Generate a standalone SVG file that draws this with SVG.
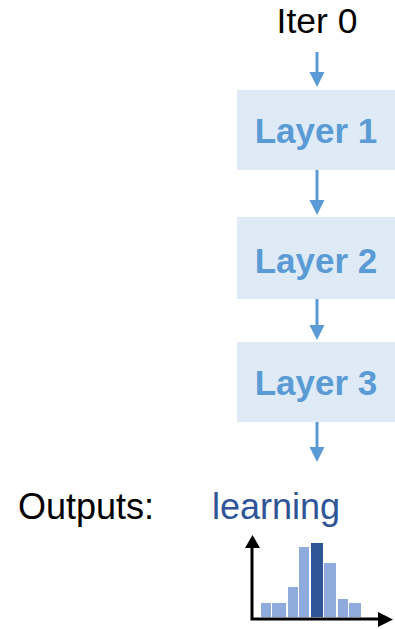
<svg xmlns="http://www.w3.org/2000/svg" width="395" height="629" viewBox="0 0 395 629">
<style>
.box{fill:#DEEBF7}
.lt{font-family:"Liberation Sans",Arial,sans-serif;font-weight:bold;font-size:35px;fill:#5B9BD5;text-anchor:middle}
.t{font-family:"Liberation Sans",Arial,sans-serif;font-size:36px;fill:#000}
.conn{stroke:#5B9BD5;stroke-width:3;fill:none}
.head{fill:#5B9BD5}
.bar{fill:#8FAADC}
.bar2{fill:#2F5597}
.ax{stroke:#000;stroke-width:3;fill:none}
</style>
<text class="t" x="317" y="33" text-anchor="middle" style="font-size:35.5px">Iter 0</text>
<g id="layer1"><rect class="box" x="237" y="90" width="158" height="80"/><text class="lt" x="316" y="143">Layer 1</text></g>
<g id="layer2"><rect class="box" x="237" y="217" width="158" height="82"/><text class="lt" x="316" y="273">Layer 2</text></g>
<g id="layer3"><rect class="box" x="237" y="342" width="158" height="80"/><text class="lt" x="316" y="395">Layer 3</text></g>
<g id="connectors">
<line class="conn" x1="317" y1="52" x2="317" y2="74"/><polygon class="head" points="309.5,72 324.5,72 317,87"/>
<line class="conn" x1="317" y1="170" x2="317" y2="202"/><polygon class="head" points="309.5,200 324.5,200 317,215"/>
<line class="conn" x1="317" y1="299" x2="317" y2="327"/><polygon class="head" points="309.5,325 324.5,325 317,340"/>
<line class="conn" x1="317" y1="422" x2="317" y2="449"/><polygon class="head" points="309.5,447 324.5,447 317,462"/>
</g>
<text class="t" x="18" y="519">Outputs:</text>
<text class="t" x="212" y="519" style="fill:#2F5597">learning</text>
<g id="chart">
<rect class="bar" x="261" y="603" width="10" height="14"/>
<rect class="bar" x="272" y="603" width="14" height="14"/>
<rect class="bar" x="288" y="587" width="10" height="30"/>
<rect class="bar" x="299" y="547" width="10" height="70"/>
<rect class="bar2" x="311" y="543" width="12" height="74"/>
<rect class="bar" x="324" y="563" width="12" height="54"/>
<rect class="bar" x="338" y="599" width="10" height="18"/>
<rect class="bar" x="349" y="603" width="12" height="14"/>
<polyline class="ax" points="252,546 252,619 380,619"/>
<polygon points="245,548 260,548 252.5,535"/>
<polygon points="378,612 378,627 393,619.5"/>
</g>
</svg>
